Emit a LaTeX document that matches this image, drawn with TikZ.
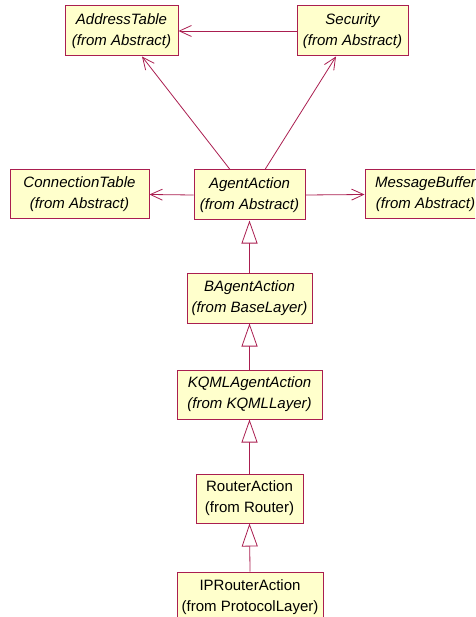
\documentclass[tikz,border=0pt]{standalone}
\usepackage{fontspec}
\setmainfont{Liberation Sans}
\usetikzlibrary{arrows.meta,calc}
\definecolor{umlline}{RGB}{170,30,80}
\definecolor{umlfill}{RGB}{255,255,204}
\begin{document}
\begin{tikzpicture}[x=1pt,y=-1pt,
  cls/.style={draw=umlline,fill=umlfill,line width=1pt,inner sep=0pt,align=center,
    font=\fontsize{15}{21}\selectfont},
  abstractcls/.style={cls,font=\fontsize{15}{21}\selectfont\itshape},
  assoc/.style={draw=umlline,line width=0.8pt,-{Straight Barb[length=12pt,width=11pt]}},
  gen/.style={draw=umlline,line width=0.8pt,-{Triangle[open,fill=white,length=23pt,width=16pt]}}]
\useasboundingbox (0,0) rectangle (475,617);
\clip (0,0) rectangle (475,617);

% classes
\node[abstractcls,minimum width=113pt,minimum height=50pt] (addr) at (121.5,31) {AddressTable\\(from Abstract)};
\node[abstractcls,minimum width=111pt,minimum height=50pt] (sec) at (352.5,31) {Security\\(from Abstract)};
\node[abstractcls,minimum width=139pt,minimum height=49pt] (conn) at (79.5,194.5) {ConnectionTable\\(from Abstract)};
\node[abstractcls,minimum width=111pt,minimum height=50pt] (agent) at (249.5,195) {AgentAction\\(from Abstract)};
\node[abstractcls,minimum width=121pt,minimum height=49pt] (msg) at (425.5,194.5) {MessageBuffer\\(from Abstract)};
\node[abstractcls,minimum width=125pt,minimum height=50pt] (bagent) at (249.5,298) {BAgentAction\\(from BaseLayer)};
\node[abstractcls,minimum width=145pt,minimum height=49pt] (kqml) at (249.5,394.5) {KQMLAgentAction\\(from KQMLLayer)};
\node[cls,minimum width=107pt,minimum height=49pt] (router) at (249.5,498.5) {RouterAction\\(from Router)};
\node[cls,minimum width=146pt,minimum height=50pt] (iprouter) at (250,597) {IPRouterAction\\(from ProtocolLayer)};

% associations
\draw[assoc] (sec.west) -- (addr.east);
\draw[assoc] ([xshift=-19.5pt]agent.north) -- ([xshift=20.5pt]addr.south);
\draw[assoc] ([xshift=15.5pt]agent.north) -- ([xshift=-16.5pt]sec.south);
\draw[assoc] (agent.west) -- (conn.east);
\draw[assoc] (agent.east) -- (msg.west);

% generalizations
\draw[gen] (bagent.north) -- (agent.south);
\draw[gen] (kqml.north) -- (bagent.south);
\draw[gen] (router.north) -- (kqml.south);
\draw[gen] (iprouter.north) -- (router.south);
\end{tikzpicture}
\end{document}
